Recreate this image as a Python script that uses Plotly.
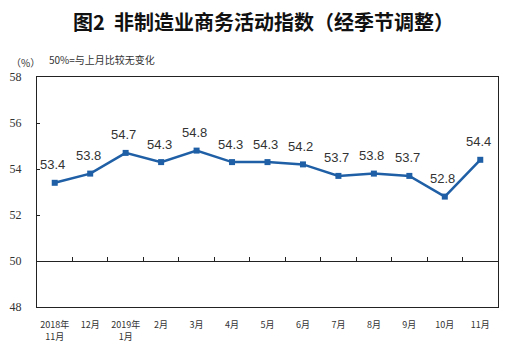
import plotly.graph_objects as go

categories = ["2018年<br>11月", "12月", "2019年<br>1月", "2月", "3月", "4月", "5月",
              "6月", "7月", "8月", "9月", "10月", "11月"]
values = [53.4, 53.8, 54.7, 54.3, 54.8, 54.3, 54.3, 54.2, 53.7, 53.8, 53.7, 52.8, 54.4]
y_ticks = [48, 50, 52, 54, 56, 58]

x = list(range(len(categories)))
blue = "#1F5FA5"

fig = go.Figure()
fig.add_trace(go.Scatter(
    x=x, y=values, mode="lines+markers",
    line=dict(color=blue, width=2.5),
    marker=dict(symbol="square", size=6, color=blue),
    showlegend=False, hoverinfo="skip",
))
# dummy trace for the secondary x axis (baseline at 50)
fig.add_trace(go.Scatter(x=[x[0]], y=[50], xaxis="x2", mode="markers",
                         marker=dict(opacity=0), showlegend=False, hoverinfo="skip"))

annotations = []
for xi, v in zip(x, values):
    annotations.append(dict(x=xi, y=v, text=f"{v:.1f}", showarrow=False,
                            xshift=-2, yshift=18,
                            font=dict(family="Liberation Sans, Arial", size=13, color="#333333")))
annotations.append(dict(xref="paper", yref="paper", x=-0.061, y=1.065, xanchor="left",
                        yanchor="middle", text="（%）", showarrow=False,
                        font=dict(family="Noto Sans CJK SC", size=10, color="#333333")))
annotations.append(dict(xref="paper", yref="paper", x=0.022, y=1.078, xanchor="left",
                        yanchor="middle", text="50%=与上月比较无变化", showarrow=False,
                        font=dict(family="Noto Sans CJK SC", size=10, color="#333333")))

xrange = [-0.5, len(categories) - 0.5]
boundaries = [i + 0.5 for i in range(len(categories) - 1)]

fig.update_layout(
    width=511, height=347,
    margin=dict(l=29, r=21, t=69, b=48),
    paper_bgcolor="white", plot_bgcolor="white",
    title=dict(text="<b>图2  非制造业商务活动指数（经季节调整）</b>", x=0.5, xanchor="center",
               y=0.956, yanchor="middle",
               font=dict(family="Noto Sans CJK SC", size=20, color="#111111")),
    xaxis=dict(range=xrange, tickmode="array", tickvals=x, ticktext=categories,
               showline=True, linecolor="#222222", linewidth=1, mirror=True,
               showgrid=False, zeroline=False, ticks="", ticklabelstandoff=9,
               automargin=False,
               tickfont=dict(family="Noto Sans CJK SC", size=9, color="#333333")),
    xaxis2=dict(range=xrange, overlaying="x", anchor="free", position=0.2,
                showline=True, linecolor="#222222", linewidth=1,
                tickmode="array", tickvals=boundaries, ticks="inside", ticklen=4,
                tickcolor="#222222", showticklabels=False, showgrid=False, zeroline=False),
    yaxis=dict(range=[48, 58], tickmode="array", tickvals=y_ticks,
               showline=True, linecolor="#222222", linewidth=1, mirror=True,
               showgrid=False, zeroline=False, ticks="inside", ticklen=3,
               tickcolor="#222222", ticklabelstandoff=12, automargin=False,
               tickfont=dict(family="Liberation Serif, Times New Roman", size=12, color="#333333")),
    annotations=annotations,
)

fig.write_html("out.html")
